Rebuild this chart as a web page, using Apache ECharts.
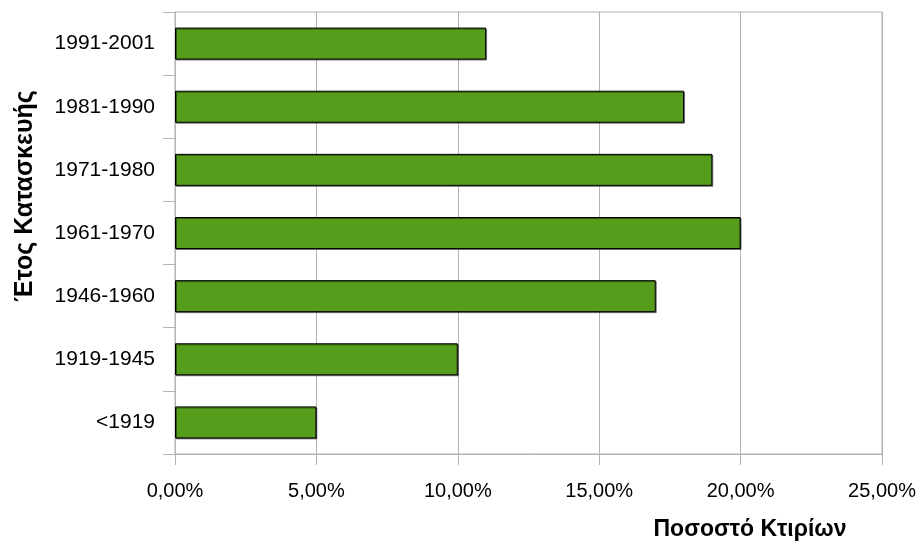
<!DOCTYPE html>
<html><head><meta charset="utf-8">
<script src="https://cdn.jsdelivr.net/npm/echarts@6/dist/echarts.min.js"></script>
<style>html,body{margin:0;padding:0;background:#fff}#c{width:919px;height:543px}</style>
</head><body><div id="c"></div>
<script>
const categories = ['<1919','1919-1945','1946-1960','1961-1970','1971-1980','1981-1990','1991-2001'];
const values = [5, 10, 17, 20, 19, 18, 11];
const xTitle = 'Ποσοστό Κτιρίων';
const yTitle = 'Έτος Κατασκευής';
const FONT = 'Liberation Sans, Arial, sans-serif';
const chart = echarts.init(document.getElementById('c'), null, {renderer:'canvas'});
chart.setOption({
  animation:false,
  grid:{left:175,right:37,top:12,bottom:89,show:true,borderColor:'#b3b3b3',borderWidth:1,containLabel:false},
  xAxis:{type:'value',min:0,max:25,interval:5,
    axisLine:{show:true,lineStyle:{color:'#b3b3b3'}},
    axisTick:{show:true,length:11,lineStyle:{color:'#b3b3b3'}},
    splitLine:{show:true,lineStyle:{color:'#b3b3b3'}},
    axisLabel:{color:'#000',fontFamily:FONT,fontSize:20,margin:27,
      formatter:v=>v.toFixed(2).replace('.',',')+'%'}},
  yAxis:{type:'category',data:categories,
    axisLine:{show:true,lineStyle:{color:'#b3b3b3'}},
    axisTick:{show:true,length:12,lineStyle:{color:'#b3b3b3'}},
    splitLine:{show:false},
    axisLabel:{color:'#000',fontFamily:FONT,fontSize:21,margin:20}},
  graphic:[
    {type:'text',x:25,y:196,rotation:Math.PI/2,
      style:{text:yTitle,font:'bold 25px '+FONT,fill:'#000',textAlign:'center',textVerticalAlign:'middle'}},
    {type:'text',x:750,y:530,
      style:{text:xTitle,font:'bold 23px '+FONT,fill:'#000',textAlign:'center',textVerticalAlign:'middle'}}
  ],
  series:[{type:'bar',data:values,barWidth:32,
    itemStyle:{color:'#579d1c',borderColor:'#000',borderWidth:1,
      shadowColor:'rgba(0,0,0,0.45)',shadowOffsetX:1,shadowOffsetY:1,shadowBlur:0}}]
});
</script></body></html>
